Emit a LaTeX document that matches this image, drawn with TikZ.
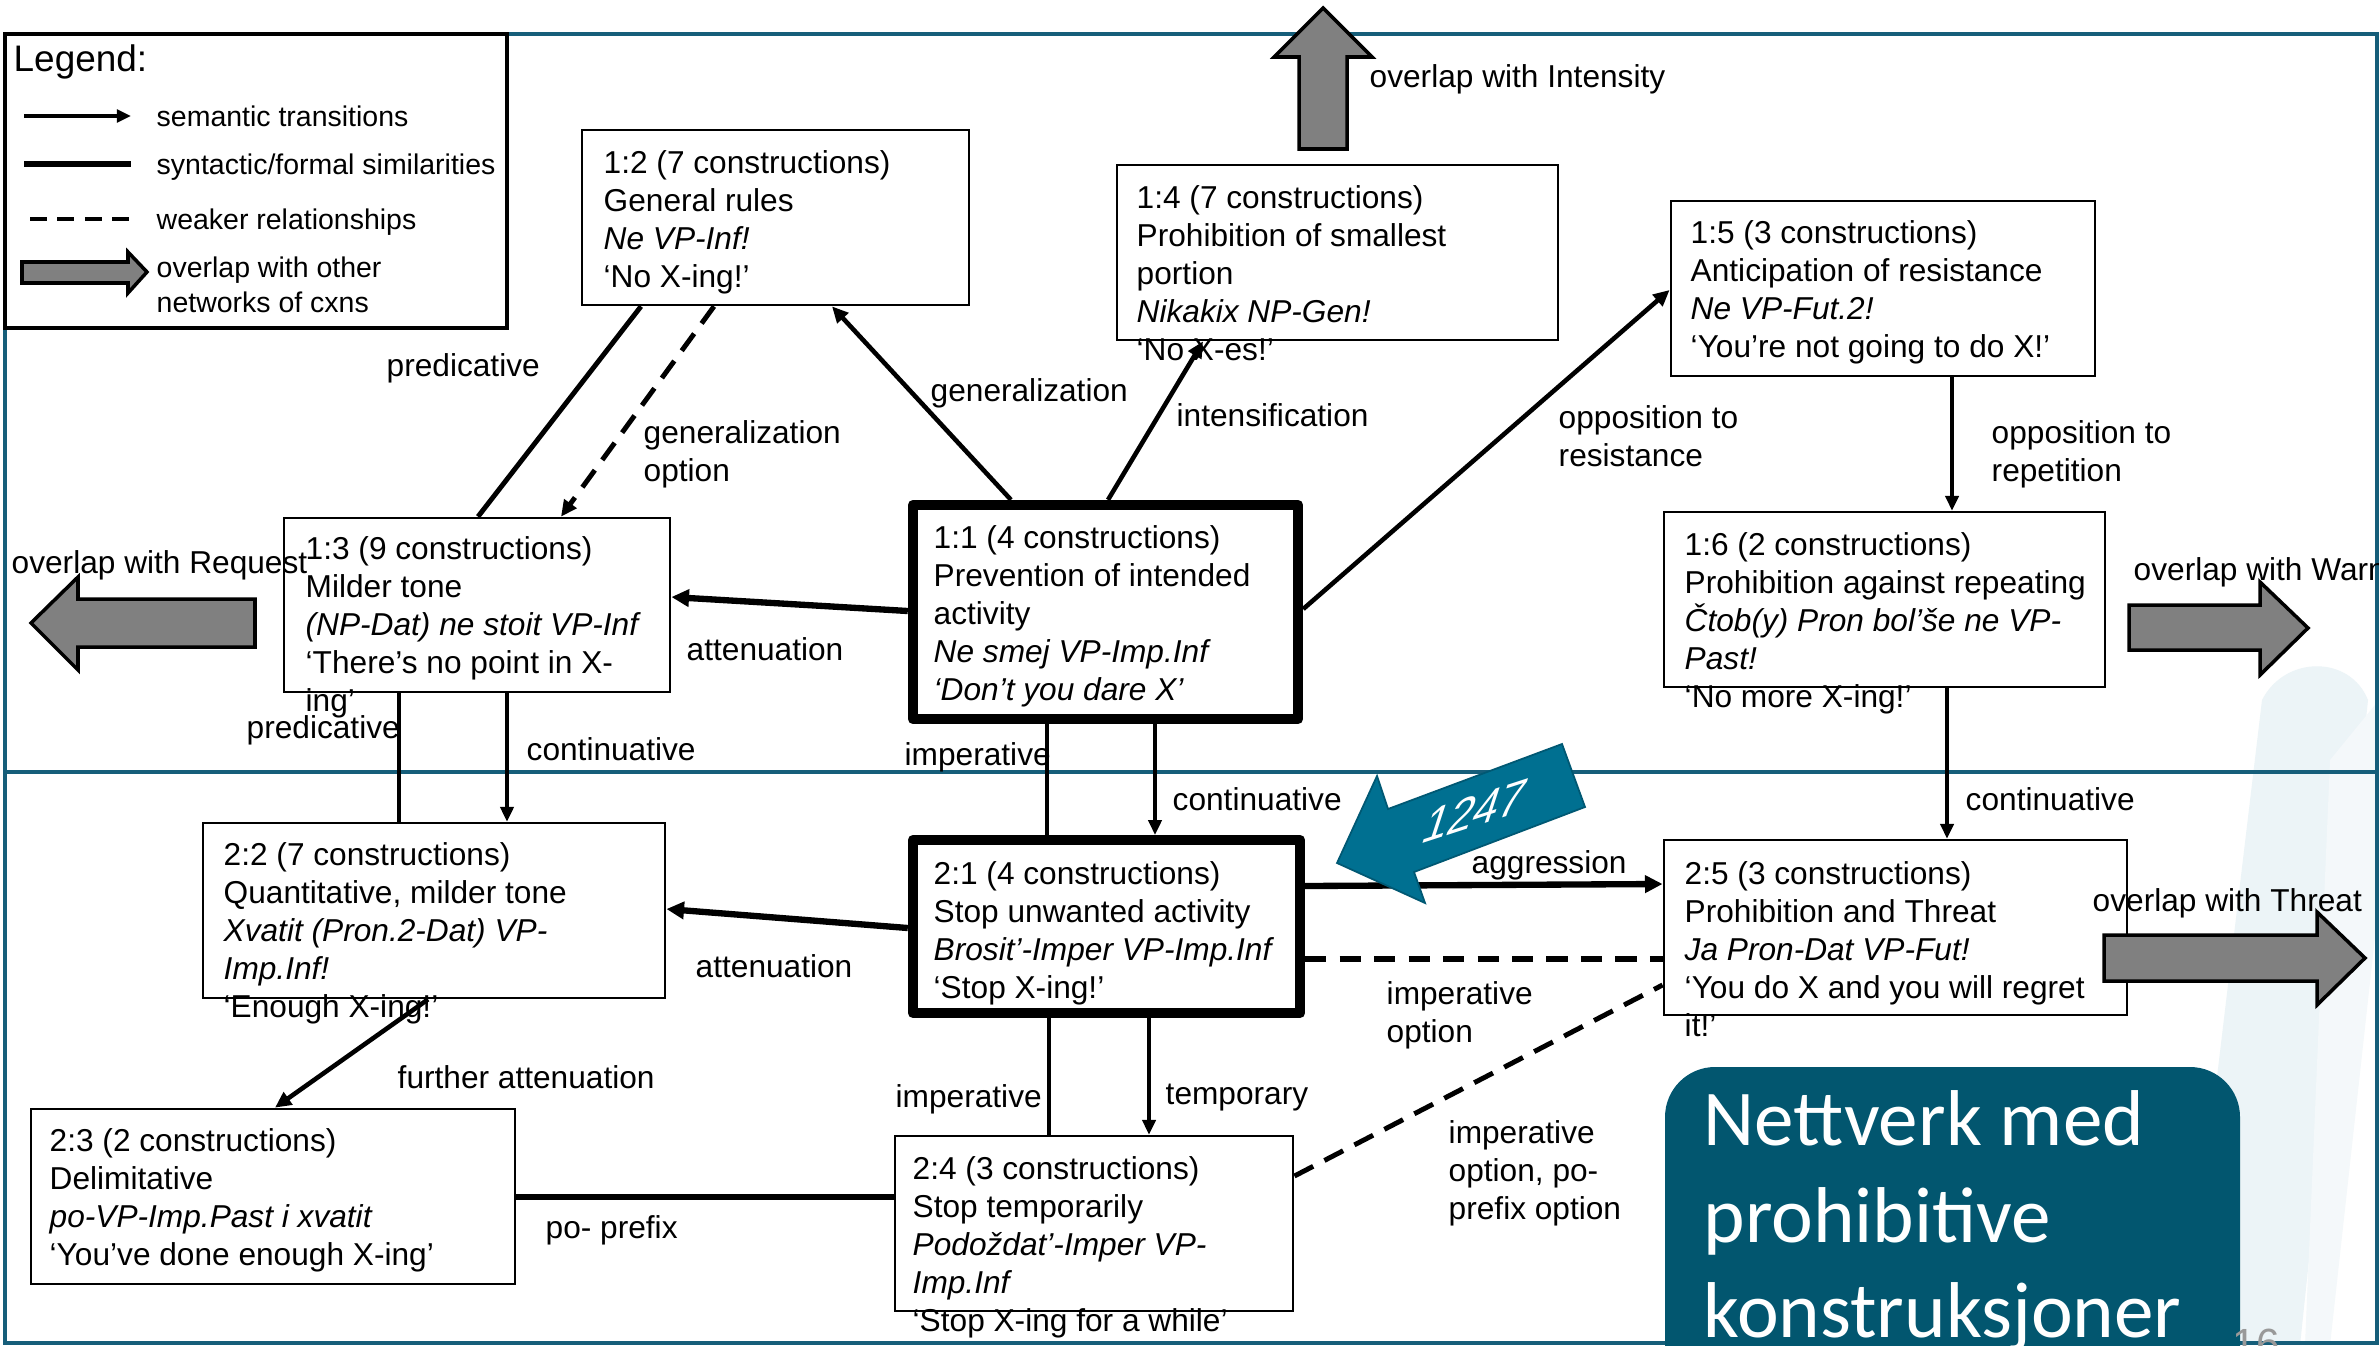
\documentclass[tikz,border=0pt]{standalone}
\usepackage{fontspec}
\setmainfont{Liberation Sans}
\newfontfamily\calib{Carlito}
\usetikzlibrary{arrows.meta}
\definecolor{frameblue}{RGB}{22,94,122}
\definecolor{tealbox}{RGB}{2,86,111}
\definecolor{arrowteal}{RGB}{0,112,145}
\definecolor{arrowtealdark}{RGB}{0,88,115}
\definecolor{graybody}{RGB}{128,128,128}
\definecolor{swoosh}{RGB}{236,244,247}
\tikzset{
  box/.style={draw, line width=0.75pt, fill=white, inner sep=0pt},
  bigbox/.style={draw, line width=2.9pt, fill=white, inner sep=0pt, line join=round},
  txt/.style={font=\fontsize{9}{10.8}\selectfont, align=left, inner sep=0pt, anchor=north west},
  lbl/.style={font=\fontsize{9}{10.8}\selectfont, inner sep=0pt, anchor=base west},
  leg/.style={font=\fontsize{8.1}{10}\selectfont, inner sep=0pt, anchor=base west},
  sem/.style={line width=1.3pt, -{Triangle[length=4.6pt,width=4.2pt]}},
  semthin/.style={line width=0.9pt, -{Triangle[length=4.2pt,width=3.8pt]}},
  semthick/.style={line width=1.8pt, -{Triangle[length=5pt,width=4.8pt]}},
  sim/.style={line width=1.4pt},
  simthick/.style={line width=1.8pt},
  weak/.style={line width=1.4pt, dash pattern=on 6pt off 3.6pt},
  weakthick/.style={line width=1.8pt, dash pattern=on 6pt off 3.8pt},
  grayarrow/.style={fill=graybody, draw=black, line width=1pt, line join=miter},
}
\begin{document}
\begin{tikzpicture}[x=0.01cm,y=-0.01cm]
\useasboundingbox (0,0) rectangle (2379,1345);
\clip (0,0) rectangle (2379,1345);
\fill[white] (0,0) rectangle (2379,1345);
% faint background swooshes
\fill[swoosh] (2262,700) .. controls (2285,655) and (2350,655) .. (2368,700) -- (2300,1345) -- (2185,1345) -- cycle;
\fill[swoosh!60] (2330,760) -- (2379,700) -- (2379,900) -- (2330,1345) -- (2305,1345) -- cycle;
% frame
\draw[frameblue, line width=0.9pt] (5,34) rectangle (2377,1343);
\draw[frameblue, line width=0.9pt] (5,772) -- (2377,772);

% legend
\node[draw, line width=1pt, fill=white, minimum width=5.02cm, minimum height=2.94cm, inner sep=0pt] (legend) at (256,181) {};
\node[inner sep=0pt, anchor=base west, font=\fontsize{10.5}{12}\selectfont] (legtitle) at (13,71) {Legend:};
\coordinate (la1) at (24,116); \coordinate (la2) at (131,116);
\coordinate (lb1) at (24,164); \coordinate (lb2) at (131,164);
\coordinate (lc1) at (30,219); \coordinate (lc2) at (133,219);
\draw[line width=0.9pt, -{Triangle[length=4pt,width=3.6pt]}] (la1) -- (la2);
\draw[line width=1.5pt] (lb1) -- (lb2);
\draw[line width=1.4pt, dash pattern=on 4.8pt off 3pt] (lc1) -- (lc2);
\draw[grayarrow] (22,262) -- (128,262) -- (128,252) -- (147,272) -- (128,293) -- (128,283) -- (22,283) -- cycle;
\node[leg] (leg1) at (156,126) {semantic transitions};
\node[leg] (leg2) at (156,174) {syntactic/formal similarities};
\node[leg] (leg3) at (156,229) {weaker relationships};
\node[leg] (leg4) at (156,277) {overlap with other};
\node[leg] (leg5) at (156,312) {networks of cxns};

% boxes
\node[box, minimum width=3.87cm, minimum height=1.75cm] (b12) at (775.5,217.5) {};
\node[box, minimum width=4.41cm, minimum height=1.75cm] (b14) at (1337.5,252.5) {};
\node[box, minimum width=4.24cm, minimum height=1.75cm] (b15) at (1883,288.5) {};
\node[box, minimum width=3.86cm, minimum height=1.74cm] (b13) at (477,605) {};
\node[bigbox, minimum width=3.85cm, minimum height=2.14cm] (b11) at (1105.5,612) {};
\node[box, minimum width=4.41cm, minimum height=1.75cm] (b16) at (1884.5,599.5) {};
\node[box, minimum width=4.62cm, minimum height=1.75cm] (b22) at (434,910.5) {};
\node[bigbox, minimum width=3.87cm, minimum height=1.73cm] (b21) at (1106.5,926.5) {};
\node[box, minimum width=4.63cm, minimum height=1.75cm] (b25) at (1895.5,927.5) {};
\node[box, minimum width=4.84cm, minimum height=1.75cm] (b23) at (273,1196.5) {};
\node[box, minimum width=3.98cm, minimum height=1.75cm] (b24) at (1094,1223.5) {};

% box texts
\node[txt] (t12) at (603,150) {1:2 (7 constructions)\\General rules\\\textit{Ne VP-Inf!}\\‘No X-ing!’};
\node[txt] (t14) at (1136,185) {1:4 (7 constructions)\\Prohibition of smallest\\portion\\\textit{Nikakix NP-Gen!}\\‘No X-es!’};
\node[txt] (t15) at (1690,220) {1:5 (3 constructions)\\Anticipation of resistance\\\textit{Ne VP-Fut.2!}\\‘You’re not going to do X!’};
\node[txt] (t13) at (305,536) {1:3 (9 constructions)\\Milder tone\\\textit{(NP-Dat) ne stoit VP-Inf}\\‘There’s no point in X-\\ing’};
\node[txt] (t11) at (933,525) {1:1 (4 constructions)\\Prevention of intended\\activity\\\textit{Ne smej VP-Imp.Inf}\\\textit{‘Don’t you dare X’}};
\node[txt] (t16) at (1684,532) {1:6 (2 constructions)\\Prohibition against repeating\\\textit{Čtob(y) Pron bol’še ne VP-}\\\textit{Past!}\\‘No more X-ing!’};
\node[txt] (t22) at (223,842) {2:2 (7 constructions)\\Quantitative, milder tone\\\textit{Xvatit (Pron.2-Dat) VP-}\\\textit{Imp.Inf!}\\‘Enough X-ing!’};
\node[txt] (t21) at (933,861) {2:1 (4 constructions)\\Stop unwanted activity\\\textit{Brosit’-Imper VP-Imp.Inf}\\‘Stop X-ing!’};
\node[txt] (t25) at (1684,861) {2:5 (3 constructions)\\Prohibition and Threat\\\textit{Ja Pron-Dat VP-Fut!}\\‘You do X and you will regret\\it!’};
\node[txt] (t23) at (49,1128) {2:3 (2 constructions)\\Delimitative\\\textit{po-VP-Imp.Past i xvatit}\\‘You’ve done enough X-ing’};
\node[txt] (t24) at (912,1156) {2:4 (3 constructions)\\Stop temporarily\\\textit{Podoždat’-Imper VP-}\\\textit{Imp.Inf}\\‘Stop X-ing for a while’};

% connectors
\draw[sim] (b12.south -| 641,0) -- (b13.north -| 478,0);
\draw[weak, -{Triangle[length=4.6pt,width=4.2pt]}] (b12.south -| 714,0) -- (b13.north -| 561,0);
\draw[sem] (b11.north -| 1011,0) -- (b12.south -| 832,0);
\draw[sem] (b11.north -| 1108,0) -- (b14.south -| 1203,0);
\draw[sem] (b11.east |- 0,609) -- (b15.west |- 0,290);
\draw[semthin] (b15.south -| 1952,0) -- (b16.north -| 1952,0);
\draw[semthick] (b11.west |- 0,611) -- (b13.east |- 0,597);
\draw[sim] (b13.south -| 399,0) -- (b22.north -| 399,0);
\draw[semthin] (b13.south -| 507,0) -- (b22.north -| 507,0);
\draw[sim] (b11.south -| 1047,0) -- (b21.north -| 1047,0);
\draw[semthin] (b11.south -| 1155,0) -- (b21.north -| 1155,0);
\draw[semthin] (b16.south -| 1947,0) -- (b25.north -| 1947,0);
\draw[semthick] (b21.east |- 0,886) -- (b25.west |- 0,884);
\draw[weakthick] (b21.east |- 0,959) -- (b25.west |- 0,959);
\draw[weak] (b24.east |- 0,1176) -- (b25.west |- 0,985);
\draw[semthick] (b21.west |- 0,928) -- (b22.east |- 0,909);
\draw[sem] (b22.south -| 428,0) -- (b23.north -| 275,0);
\draw[sim] (b21.south -| 1049,0) -- (b24.north -| 1049,0);
\draw[semthin] (b21.south -| 1149,0) -- (b24.north -| 1149,0);
\draw[simthick] (b23.east |- 0,1197) -- (b24.west |- 0,1197);

% connector labels
\node[lbl] (lpred1) at (386,376) {predicative};
\node[txt] (lgenopt) at (643,420) {generalization\\option};
\node[lbl] (lgen) at (930,401) {generalization};
\node[lbl] (lint) at (1176,426) {intensification};
\node[txt] (lopres) at (1558,405) {opposition to\\resistance};
\node[txt] (loprep) at (1991,420) {opposition to\\repetition};
\node[lbl] (latt1) at (686,660) {attenuation};
\node[lbl] (lpred2) at (246,738) {predicative};
\node[lbl] (lcont1) at (526,760) {continuative};
\node[lbl] (limp1) at (904,765) {imperative};
\node[lbl] (lcont2) at (1172,810) {continuative};
\node[lbl] (lcont3) at (1965,810) {continuative};
\node[lbl] (lagg) at (1471,873) {aggression};
\node[lbl] (latt2) at (695,977) {attenuation};
\node[txt] (limpopt) at (1386,981) {imperative\\option};
\node[lbl] (lfur) at (397,1088) {further attenuation};
\node[lbl] (limp2) at (895,1107) {imperative};
\node[lbl] (ltemp) at (1165,1104) {temporary};
\node[txt] (limppo) at (1448,1120) {imperative\\option, po-\\prefix option};
\node[lbl] (lpo) at (545,1238) {po- prefix};

% overlap arrows
\draw[grayarrow] (1299,149) -- (1299,57) -- (1274,57) -- (1323,8) -- (1372,57) -- (1347,57) -- (1347,149) -- cycle;
\node[lbl] (lintens) at (1369,87) {overlap with Intensity};
\draw[grayarrow] (255,599) -- (78,599) -- (78,577) -- (31,623) -- (78,670) -- (78,647) -- (255,647) -- cycle;
\node[lbl] (lreq) at (11,573) {overlap with Request};
\draw[grayarrow] (2129,605) -- (2260,605) -- (2260,582) -- (2308,628) -- (2260,675) -- (2260,650) -- (2129,650) -- cycle;
\node[lbl] (lwarn) at (2133,580) {overlap with Warning};
\draw[grayarrow] (2104,935) -- (2317,935) -- (2317,912) -- (2365,958) -- (2317,1005) -- (2317,981) -- (2104,981) -- cycle;
\node[lbl] (lthr) at (2092,911) {overlap with Threat};

% 1247 arrow
\draw[fill=arrowteal, draw=arrowtealdark, line width=0.5pt, line join=miter] (1337,863) -- (1377,776) -- (1388,809) -- (1562,744) -- (1585,807) -- (1414,872) -- (1425,903) -- cycle;
\begin{scope}[shift={(1475,811)}]
\node[cm={0.856,0.278,0.309,0.951,(0,0)}, transform shape, text=white, font=\fontsize{15}{15}\selectfont, inner sep=0pt] (n1247) at (0,0) {1247};
\end{scope}

% title box
\fill[tealbox, rounded corners=0.5cm] (1665,1067) rectangle (2240,1420);
\node[anchor=base west, inner sep=0pt, text=white, font=\calib\fontsize{22.5}{27}\selectfont] (ti1) at (1703,1145) {Nettverk med};
\node[anchor=base west, inner sep=0pt, text=white, font=\calib\fontsize{22.5}{27}\selectfont] (ti2) at (1703,1242) {prohibitive};
\node[anchor=base west, inner sep=0pt, text=white, font=\calib\fontsize{22.5}{27}\selectfont] (ti3) at (1703,1337) {konstruksjoner};
\node[anchor=north west, inner sep=0pt, text=gray!80, font=\fontsize{12}{12}\selectfont] (pg) at (2232,1328) {16};
\end{tikzpicture}
\end{document}
